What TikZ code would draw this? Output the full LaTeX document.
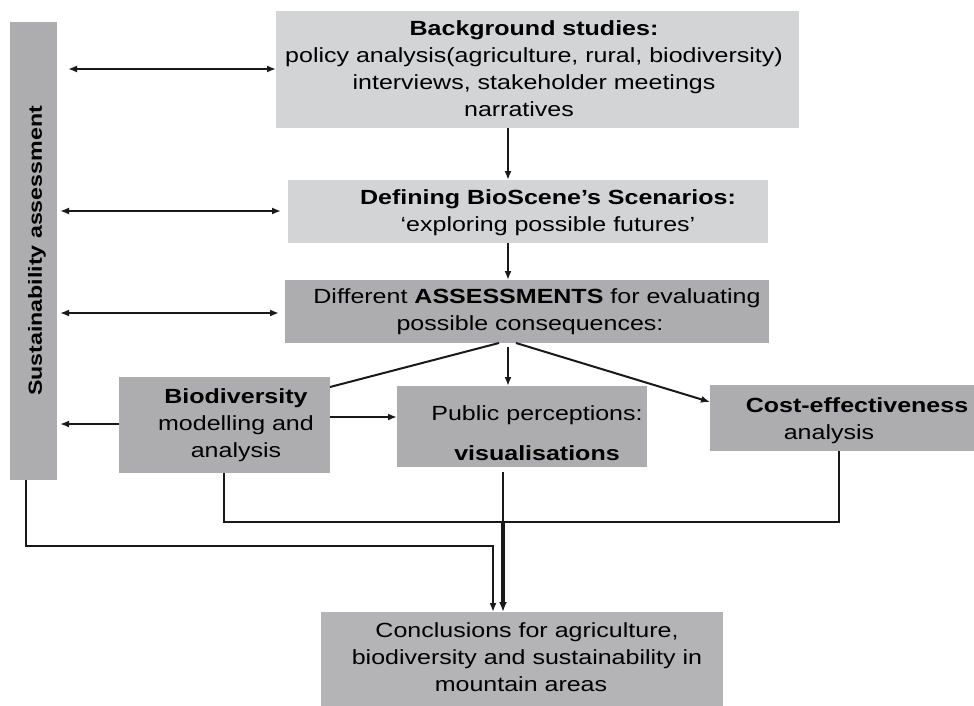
\documentclass[tikz,border=0pt]{standalone}
\usepackage{fontspec}
\setmainfont{Liberation Sans}[FakeStretch=1.22]
\usetikzlibrary{arrows.meta}
\definecolor{lightgrey}{RGB}{211,212,214}
\definecolor{darkgrey}{RGB}{173,173,175}
\definecolor{midgrey}{RGB}{180,180,182}
\newcommand{\padR}[1]{\rule{#1}{0pt}}
\tikzset{
  lbox/.style={fill=lightgrey, draw=none, inner sep=0pt, anchor=north west},
  dbox/.style={fill=darkgrey, draw=none, inner sep=0pt, anchor=north west},
  txt/.style={align=center, inner sep=0pt, font=\fontsize{20.5}{27}\selectfont},
  conn/.style={line width=2pt, black!90},
  arr/.style={conn, -{Latex[length=9pt,width=7pt]}},
  dblarr/.style={conn, {Latex[length=9pt,width=7pt]}-{Latex[length=9pt,width=7pt]}},
  thickarr/.style={line width=3.2pt, black!90, -{Latex[length=10pt,width=8pt]}}
}
\begin{document}
\begin{tikzpicture}[x=1pt,y=-1pt]
\useasboundingbox (0,0) rectangle (974,706);
% boxes
\node[dbox, minimum width=47, minimum height=458] (sust) at (10,22) {};
\node[txt, rotate=90, font=\fontsize{19}{24}\selectfont\bfseries] (sust-t) at (37,251) {Sustainability assessment};
\node[lbox, minimum width=523, minimum height=117] (bg) at (276,11) {};
\node[txt] (bg-t) at (534,69) {\textbf{Background studies:}\\policy analysis(agriculture, rural, biodiversity)\\interviews, stakeholder meetings\\narratives\padR{30pt}};
\node[lbox, minimum width=480, minimum height=63] (def) at (288,180) {};
\node[txt] (def-t) at (548,213) {\textbf{Defining BioScene’s Scenarios:}\\‘exploring possible futures’};
\node[dbox, minimum width=484, minimum height=63] (ass) at (285,280) {};
\node[txt] (ass-t) at (537,312) {Different \textbf{ASSESSMENTS} for evaluating\\possible consequences:\padR{14pt}};
\node[dbox, minimum width=211, minimum height=96] (bio) at (119,377) {};
\node[txt] (bio-t) at (236,425) {\textbf{Biodiversity}\\modelling and\\analysis};
\node[dbox, minimum width=250, minimum height=81] (pub) at (397,386) {};
\node[txt] (pub-t) at (537,433) {Public perceptions:\\[13pt]\textbf{visualisations}};
\node[dbox, minimum width=264, minimum height=66] (cost) at (710,385) {};
\node[txt] (cost-t) at (857,421) {\textbf{Cost-effectiveness}\\analysis\padR{56pt}};
\node[dbox, fill=midgrey, minimum width=402, minimum height=94] (conc) at (321,612) {};
\node[txt] (conc-t) at (527,657) {Conclusions for agriculture,\\biodiversity and sustainability in\\mountain areas\padR{12pt}};
% side arrows
\coordinate (a1) at (68,69);
\draw[dblarr] (a1) -- (a1 -| bg.west);
\coordinate (a2) at (60,211);
\draw[dblarr, shorten >=7pt] (a2) -- (a2 -| def.west);
\coordinate (a3) at (60,313);
\draw[dblarr, shorten >=6pt] (a3) -- (a3 -| ass.west);
\coordinate (a4) at (60,424);
\draw[arr] (a4 -| bio.west) -- (a4);
% main flow
\coordinate (v1) at (508,150);
\draw[arr] (v1 |- bg.south) -- (v1 |- def.north);
\draw[arr] (v1 |- def.south) -- (v1 |- ass.north);
% fan
\coordinate (fl) at (499,343);
\coordinate (fm) at (508,347);
\coordinate (fr) at (516,343);
\coordinate (bioR) at (330,387);
\coordinate (costL) at (710,402);
\draw[conn] (fl) -- (bioR);
\draw[arr] (fm) -- (fm |- pub.north);
\draw[arr] (fr) -- (costL);
\coordinate (bp) at (330,417);
\draw[arr] (bp) -- (bp -| pub.west);
% lower connections
\coordinate (b1) at (224,522);
\coordinate (c1) at (839,522);
\draw[conn] (b1 |- bio.south) -- (b1) -- (c1) -- (c1 |- cost.south);
\coordinate (p1) at (503,472);
\coordinate (p2) at (503,522);
\draw[conn] (p1) -- (p2);
\draw[thickarr] (p2) -- (p2 |- conc.north);
\coordinate (s1) at (26,546);
\coordinate (s2) at (493,546);
\draw[arr] (s1 |- sust.south) -- (s1) -- (s2) -- (s2 |- conc.north);
\end{tikzpicture}
\end{document}
